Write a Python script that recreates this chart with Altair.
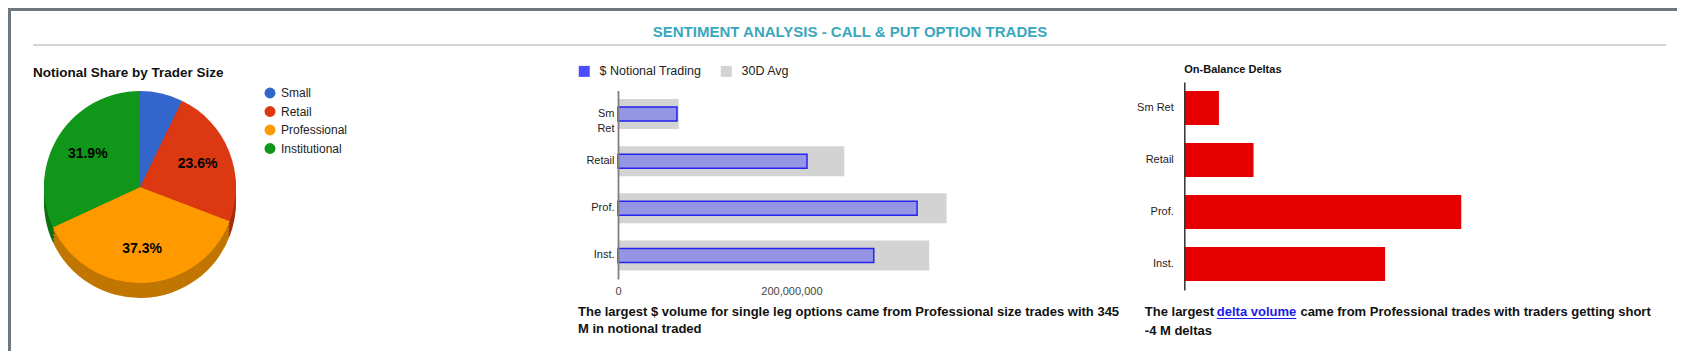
import altair as alt
import pandas as pd

# ---------------- data ----------------
PIE_GROUPS = ["Small", "Retail", "Professional", "Institutional"]
PIE_SHARE = [7.2, 23.6, 37.3, 31.9]

BAR_CATS = ["Sm Ret", "Retail", "Prof.", "Inst."]
SERIES = ["$ Notional Trading", "30D Avg"]
NOTIONAL = [68e6, 218e6, 345e6, 295e6]
AVG_30D = [70e6, 261e6, 379e6, 359e6]
MID_TICKS = [0, 200e6]

DELTA_CATS = ["Sm Ret", "Retail", "Prof.", "Inst."]
DELTA_M = [0.5, 1.0, 4.0, 2.9]

TITLE = "SENTIMENT ANALYSIS - CALL & PUT OPTION TRADES"
PIE_TITLE = "Notional Share by Trader Size"
DELTA_TITLE = "On-Balance Deltas"
NOTE_MID = ["The largest $ volume for single leg options came from Professional size trades with 345",
            "M in notional traded"]
NOTE_RIGHT = ["The largest", "delta volume", "came from Professional trades with traders getting short",
              "-4 M deltas"]

# ---------------- styles ----------------
PIE_COLORS = ["#3366cc", "#dc3912", "#ff9900", "#109618"]
PIE_DARK = ["#264d99", "#a52b0e", "#c07600", "#0c7112"]
MID_COLORS = ["#4b4bff", "#d3d3d3"]
FONT = "Liberation Sans, Arial, sans-serif"

W, H = 1669, 343
PX, PY, R = 132, 179, 96

one = pd.DataFrame({"k": [0]})


def base():
    return alt.Chart(one)


def txt(s, x, y, **kw):
    return base().mark_text(align=kw.pop("align", "left"), baseline="middle", **kw).encode(
        x=alt.value(x), y=alt.value(y), text=alt.value(s))


panel = base().mark_rect(fill="white").encode(
    x=alt.value(3), x2=alt.value(W), y=alt.value(3), y2=alt.value(H))
title = txt(TITLE, 842, 24, align="center", font=FONT, fontSize=15, fontWeight="bold", color="#39a8bc")
sep = base().mark_rule(color="#a8a8a8", strokeWidth=1).encode(
    x=alt.value(25), x2=alt.value(1658), y=alt.value(37))

# ---------------- pie ----------------
pie_df = pd.DataFrame({"group": PIE_GROUPS, "share": PIE_SHARE, "idx": list(range(len(PIE_GROUPS)))})


def pie_layer(dy):
    return alt.Chart(pie_df).encode(
        theta=alt.Theta("share:Q", stack=True),
        order=alt.Order("idx:Q"),
        x=alt.value(PX), y=alt.value(PY + dy))


sides = [pie_layer(k).mark_arc(outerRadius=R).encode(
    color=alt.Color("group:N", scale=alt.Scale(domain=PIE_GROUPS, range=PIE_DARK), legend=None))
    for k in (15, 11, 7, 3)]
top = pie_layer(0).mark_arc(outerRadius=R).encode(
    color=alt.Color("group:N", scale=alt.Scale(domain=PIE_GROUPS, range=PIE_COLORS),
                    legend=alt.Legend(orient="none", legendX=256, legendY=79, title=None,
                                      symbolType="circle", symbolSize=120, symbolStrokeWidth=0,
                                      labelFontSize=12, labelFont=FONT, labelColor="#222",
                                      labelOffset=5, rowPadding=6.5)))
pie_labels = pie_layer(0).mark_text(radius=62, font=FONT, fontSize=14, fontWeight="bold", color="#000").encode(
    text="label:N", detail="group:N").transform_calculate(
    label="datum.share > 10 ? format(datum.share, '.1f') + '%' : ''")
pie_title = txt(PIE_TITLE, 25, 65, font=FONT, fontSize=13.5, fontWeight="bold", color="#111")

# ---------------- middle bars ----------------
mid_df = pd.DataFrame({
    "cat": BAR_CATS * 2,
    "series": [SERIES[0]] * len(BAR_CATS) + [SERIES[1]] * len(BAR_CATS),
    "value": NOTIONAL + AVG_30D,
})


def xs_mid():
    return alt.Scale(domain=[0, 400e6], range=[610, 956.8], nice=False)


def ys_mid():
    return alt.Scale(domain=BAR_CATS, range=[82.5, 271], paddingInner=0, paddingOuter=0)


gray = alt.Chart(mid_df).transform_filter(alt.datum.series == SERIES[1]).mark_bar(size=30).encode(
    x=alt.X("value:Q", scale=xs_mid(),
            axis=alt.Axis(orient="bottom", offset=-72, values=MID_TICKS, format=",d", labelFlush=False,
                          domain=False, ticks=False, grid=False, labelPadding=6, labelFontSize=11,
                          labelColor="#444", labelFont=FONT, title=None, zindex=1)),
    y=alt.Y("cat:N", scale=ys_mid(),
            axis=alt.Axis(orient="left", offset=-610, domainColor="#808080", domainWidth=1.8, zindex=1,
                          ticks=False, grid=False, labelPadding=4, labelFontSize=11, labelColor="#222",
                          labelFont=FONT, labelExpr="split(datum.label, ' ')", labelLineHeight=15,
                          title=None)),
    color=alt.Color("series:N", scale=alt.Scale(domain=SERIES, range=MID_COLORS),
                    legend=alt.Legend(orient="none", direction="horizontal", legendX=570, legendY=57,
                                      title=None, symbolType="square", symbolSize=121,
                                      symbolStrokeWidth=0, labelFontSize=12.5, labelFont=FONT,
                                      labelColor="#222", labelOffset=9, columnPadding=18)))
blue = alt.Chart(mid_df).transform_filter(alt.datum.series == SERIES[0]).mark_bar(
    size=14, fill="#9595e6", stroke="#2424ee", strokeWidth=1.5).encode(
    x=alt.X("value:Q", scale=xs_mid(), axis=None),
    y=alt.Y("cat:N", scale=ys_mid(), axis=None))

# ---------------- right bars ----------------
delta_df = pd.DataFrame({"cat": DELTA_CATS, "delta": DELTA_M})
right = alt.Chart(delta_df).mark_bar(size=34, color="#e60000").encode(
    x=alt.X("delta:Q", scale=alt.Scale(domain=[0, 5], range=[1176.3, 1522.5], nice=False), axis=None),
    y=alt.Y("cat:N", scale=alt.Scale(domain=DELTA_CATS, range=[74, 282], paddingInner=0, paddingOuter=0),
            axis=alt.Axis(orient="left", offset=-1176.3, domainColor="#333", domainWidth=1.5, zindex=1,
                          ticks=False, grid=False, labelPadding=11, labelFontSize=11, labelColor="#222",
                          labelFont=FONT, title=None)))
right_title = txt(DELTA_TITLE, 1176.3, 62, font=FONT, fontSize=11, fontWeight="bold", color="#111")

# ---------------- notes ----------------
note_kw = dict(font=FONT, fontSize=13, fontWeight="bold", color="#111")
notes = [
    txt(NOTE_MID[0], 570, 304, **note_kw),
    txt(NOTE_MID[1], 570, 321, **note_kw),
    txt(NOTE_RIGHT[0], 1136.8, 304, **note_kw),
    txt(NOTE_RIGHT[1], 1208.8, 304, font=FONT, fontSize=13, fontWeight="bold", color="#1a1aee"),
    txt(NOTE_RIGHT[2], 1292.4, 304, **note_kw),
    txt(NOTE_RIGHT[3], 1136.8, 322.7, **note_kw),
]
underline = base().mark_rule(color="#1a1aee", strokeWidth=1).encode(
    x=alt.value(1208.8), x2=alt.value(1288.3), y=alt.value(310.5))

chart = alt.layer(
    panel, title, sep, *sides, top, pie_labels, pie_title, gray, blue, right, right_title, *notes, underline
).resolve_scale(
    x="independent", y="independent", color="independent"
).resolve_axis(
    x="independent", y="independent"
).resolve_legend(
    color="independent"
).properties(
    width=W, height=H, padding=0, autosize=alt.AutoSizeParams(type="none"), background="#6d777f"
).configure_view(strokeWidth=0)

chart.save("out.html", embed_options={"renderer": "svg", "actions": False})
